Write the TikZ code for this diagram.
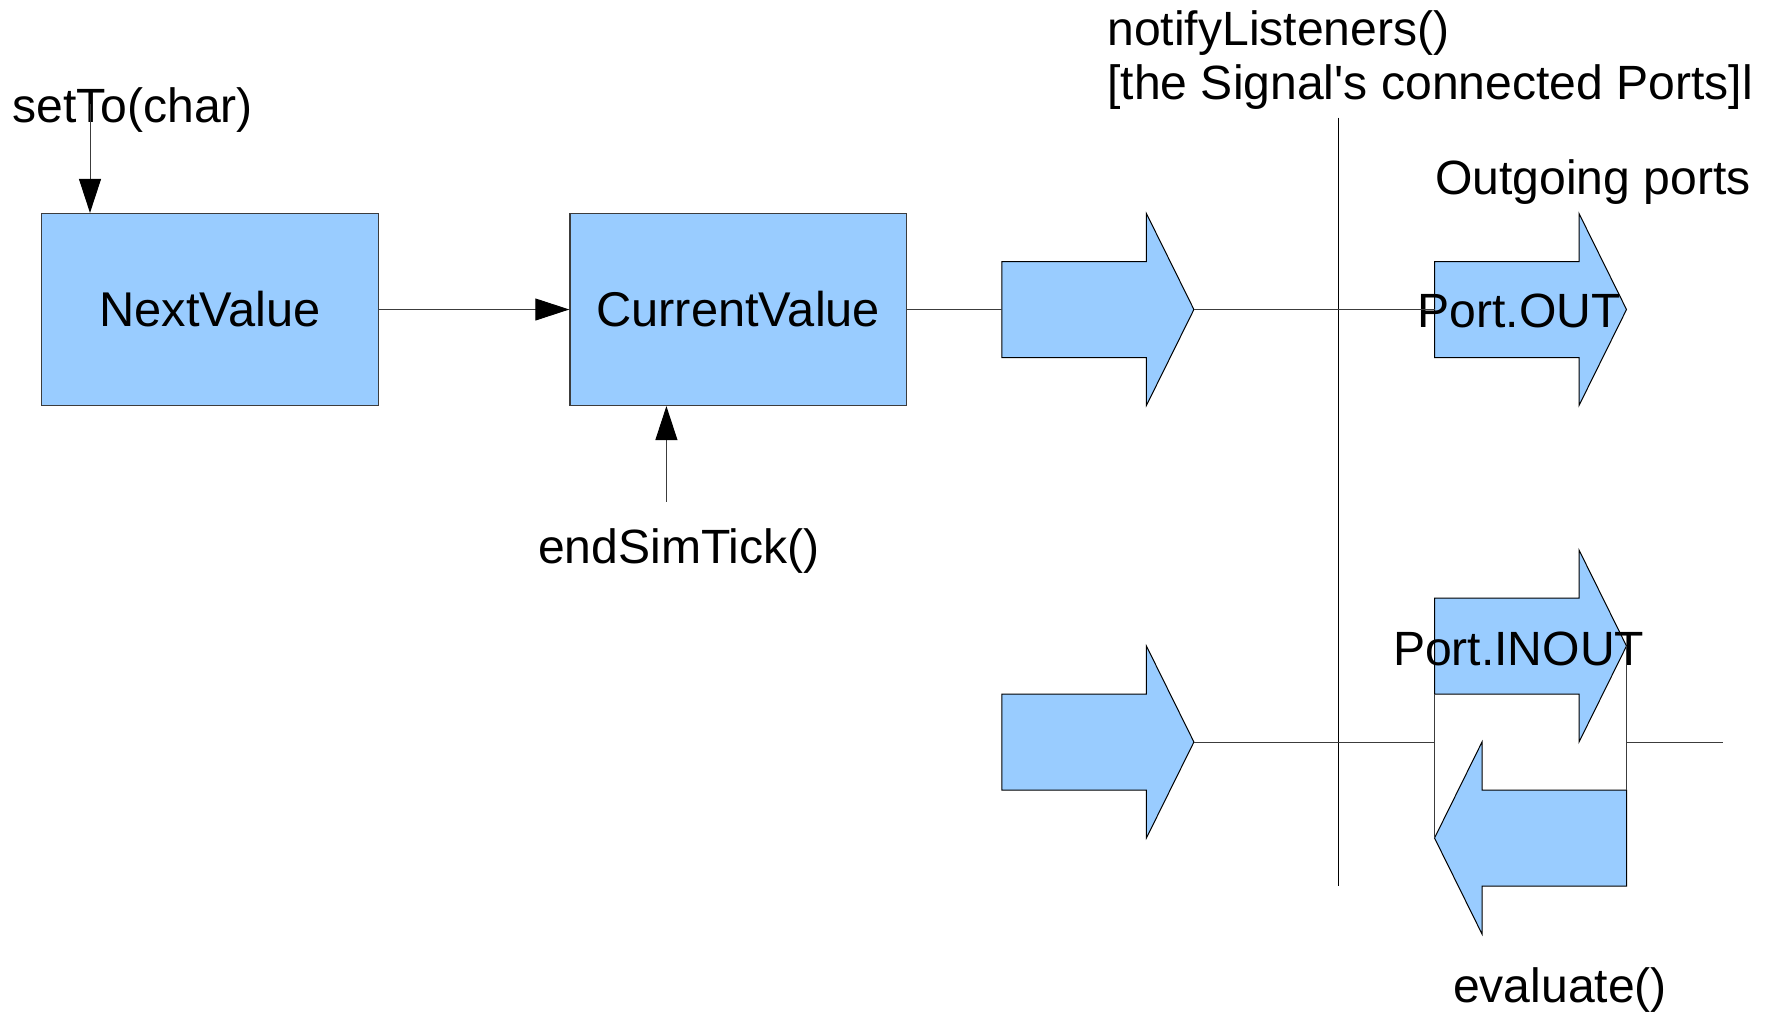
\documentclass[tikz,border=0pt]{standalone}
\usepackage{fontspec}
\newfontfamily\lsans{Liberation Sans}
\usetikzlibrary{arrows.meta}
\definecolor{boxblue}{HTML}{99CCFF}
\definecolor{edge}{HTML}{3C3C3C}

\begin{document}
\begin{tikzpicture}[x=0.5pt,y=-0.5pt,
  lbl/.style={font=\lsans\fontsize{24.05}{28}\selectfont, inner sep=0pt},
  valuebox/.style={draw=edge, fill=boxblue, line width=0.6pt,
    minimum width=168.3pt, minimum height=96pt, inner sep=0pt,
    font=\lsans\fontsize{24.4}{28}\selectfont},
  wire/.style={draw=edge, line width=0.5pt},
  arrowwire/.style={wire, -{Triangle[length=17pt,width=11pt,color=black,fill=black]}},
  blockarrow/.style={draw=black, fill=boxblue, line width=0.5pt, line join=miter},
  sepline/.style={draw=black, line width=0.5pt},
  % block arrow pointing right, tail at the origin
  rblock/.pic={
    \path[blockarrow] (0,-48) -- (144.5,-48) -- (144.5,-96) -- (192,0)
      -- (144.5,96) -- (144.5,48) -- (0,48) -- cycle;
    \coordinate (-tail) at (0,0);
    \coordinate (-tip) at (192,0);
    \coordinate (-bl) at (0,48);
  },
  % block arrow pointing left, tip at the origin
  lblock/.pic={
    \path[blockarrow] (192,-48) -- (47.5,-48) -- (47.5,-96) -- (0,0)
      -- (47.5,96) -- (47.5,48) -- (192,48) -- cycle;
    \coordinate (-tip) at (0,0);
    \coordinate (-tail) at (192,0);
    \coordinate (-tailtop) at (192,-48);
  }
]
\useasboundingbox (0,0) rectangle (1771,1013);

% value registers
\node[valuebox] (next) at (210.1,309.5) {NextValue};
\node[valuebox] (cur) at (738.2,309.5) {CurrentValue};

% signal and port arrows
\pic (sigA) at (1001.9,309.5) {rblock};
\pic (sigB) at (1001.9,742) {rblock};
\pic (pout) at (1434.5,309.5) {rblock};
\pic (pio) at (1434.5,646) {rblock};
\pic (pin) at (1434.5,838) {lblock};

% separator between signal and ports
\coordinate (sepTop) at (1338.5,117.5);
\coordinate (sepBot) at (1338.5,885.5);
\draw[sepline] (sepTop) -- (sepBot);

% labels
\node[lbl, anchor=base west] (setTo) at (12,122) {setTo(char)};
\node[lbl, anchor=base] (tick) at (679,563) {endSimTick()};
\node[lbl, anchor=base west] (notify) at (1107,45) {notifyListeners()};
\node[lbl, anchor=base west] (notifyB) at (1107,99.5) {[the Signal's connected Ports]l};
\node[lbl, anchor=base east] (outgoing) at (1751,194) {Outgoing ports};
\node[lbl, anchor=base] (poutLbl) at (1519,327.5) {Port.OUT};
\node[lbl, anchor=base] (pioLbl) at (1518.6,665) {Port.INOUT};
\node[lbl, anchor=base] (evalLbl) at (1560,1002) {evaluate()};

% connectors
\coordinate (setSrc) at (90,104);
\draw[arrowwire] (setSrc) -- (next.north -| setSrc);
\draw[arrowwire] (next.east) -- (cur.west);
\coordinate (tickSrc) at (666.4,501.5);
\draw[arrowwire] (tickSrc) -- (cur.south -| tickSrc);
\draw[wire] (cur.east) -- (sigA-tail);
\draw[wire] (sigA-tip) -- (pout-tail);
\draw[wire] (sigB-tip) -- (sigB-tip -| pio-tail);
\draw[wire] (pio-bl) -- (pin-tip);
\draw[wire] (pio-tip) -- (pin-tailtop);
\coordinate (ioEnd) at (1722.5,742);
\draw[wire] (pio-tip |- ioEnd) -- (ioEnd);
\end{tikzpicture}
\end{document}
